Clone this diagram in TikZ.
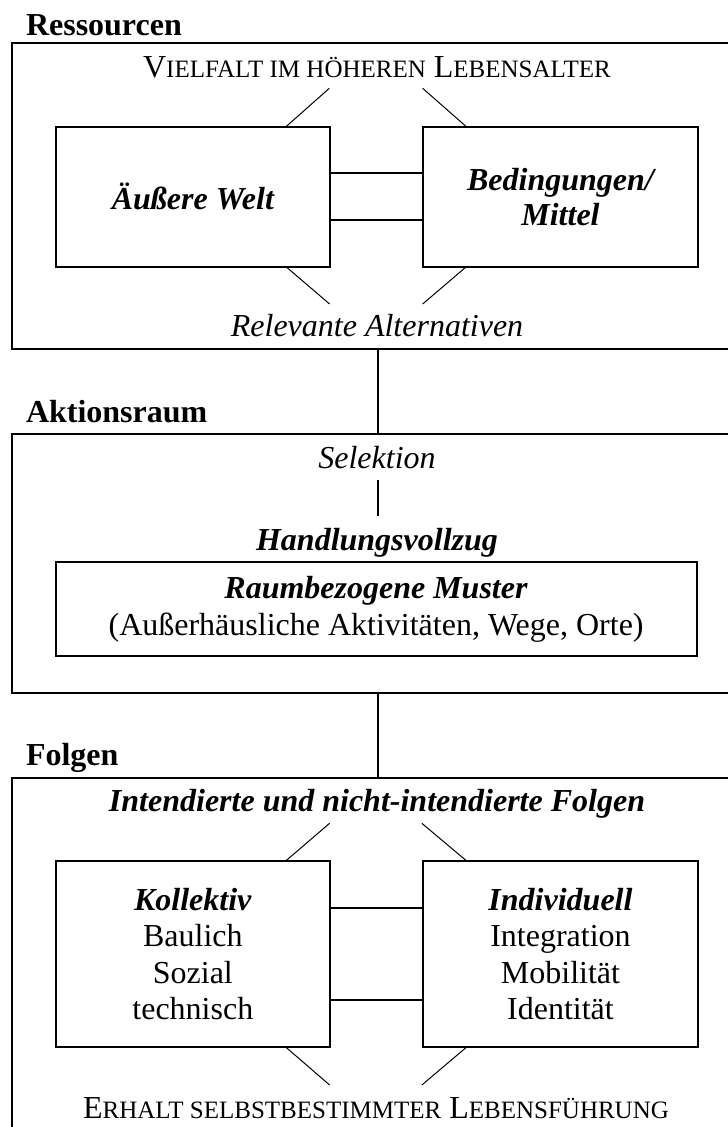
\documentclass[tikz,border=0pt]{standalone}
\usepackage{fontspec}
\setmainfont{Liberation Serif}
\usetikzlibrary{calc}
% small capitals built from reduced upper-case letters
\newcommand\kap[1]{{\fontsize{25}{30}\selectfont #1}}
\begin{document}
\begin{tikzpicture}[x=1pt,y=-1pt,
  every node/.style={font=\fontsize{32}{36.5}\selectfont, inner sep=0pt, outer sep=0pt},
  head/.style={font=\fontsize{32}{36.5}\selectfont\bfseries, anchor=base west},
  label/.style={anchor=base},
  outerbox/.style={draw, line width=2pt, minimum width=733pt},
  innerbox/.style={draw, line width=2pt, align=center},
  sidebox/.style={innerbox, minimum width=274.3pt},
  link/.style={line width=2pt},
  diag/.style={line width=1pt},
  vline/.style={line width=1.3pt}]
\useasboundingbox (0,0) rectangle (728,1127);
\clip (0,0) rectangle (728,1127);

% ---------- Ressourcen ----------
\node[head] (hres) at (26,35) {Ressourcen};
\node[outerbox, minimum height=306.6pt] (res) at (378,196) {};
\node[label] (vielfalt) at (377,77) {V\kap{IELFALT IM HÖHEREN} L\kap{EBENSALTER}};
\node[sidebox, minimum height=140pt, font=\fontsize{32}{36.5}\selectfont\bfseries\itshape] (welt) at (192.85,196.7) {Äußere Welt};
\node[sidebox, minimum height=140pt, font=\fontsize{32}{35}\selectfont\bfseries\itshape] (mittel) at (560.5,196.7) {Bedingungen/\\Mittel};
\node[label, font=\fontsize{32}{36.5}\selectfont\itshape] (alt) at (377,336) {Relevante Alternativen};

\draw[link] ($(welt.north east)+(0,46)$) -- ($(mittel.north west)+(0,46)$);
\draw[link] ($(welt.north east)+(0,93.3)$) -- ($(mittel.north west)+(0,93.3)$);
\draw[diag] ($(welt.north east)+(-44,0)$) -- ($(welt.north east)+(-0.7,-38.4)$);
\draw[diag] ($(mittel.north west)+(43,0)$) -- ($(mittel.north west)+(-0.7,-38.4)$);
\draw[diag] ($(welt.south east)+(-44,0)$) -- ($(welt.south east)+(-0.4,37.3)$);
\draw[diag] ($(mittel.south west)+(43,0)$) -- ($(mittel.south west)+(-0.7,37.3)$);

% ---------- Aktionsraum ----------
\node[head] (hakt) at (26,422) {Aktionsraum};
\node[outerbox, minimum height=259.3pt] (akt) at (378,563.65) {};
\node[label, font=\fontsize{32}{36.5}\selectfont\itshape] (sel) at (377,468) {Selektion};
\node[label, font=\fontsize{32}{36.5}\selectfont\bfseries\itshape] (hand) at (377,550.5) {Handlungsvollzug};
\node[innerbox, minimum width=640.8pt, minimum height=93.7pt] (muster) at (376.1,609.2)
  {\textbf{\textit{Raumbezogene Muster}}\\(Außerhäusliche Aktivitäten, Wege, Orte)};
\draw[vline] ($(sel.south)+(1,12)$) -- ($(sel.south)+(1,48)$);

\draw[vline] (res.south) -- (akt.north);

% ---------- Folgen ----------
\node[head] (hfol) at (26,765) {Folgen};
\node[outerbox, minimum height=382pt] (fol) at (378,969) {};
\node[label, font=\fontsize{32}{36.5}\selectfont\bfseries\itshape] (intend) at (377,811) {Intendierte und nicht-intendierte Folgen};
\node[sidebox, minimum height=186.6pt] (koll) at (192.85,954)
  {\textbf{\textit{Kollektiv}}\\Baulich\\Sozial\\technisch};
\node[sidebox, minimum height=186.6pt] (indiv) at (560.5,954)
  {\textbf{\textit{Individuell}}\\Integration\\Mobilität\\Identität};
\node[label] (erhalt) at (376,1118.3) {E\kap{RHALT SELBSTBESTIMMTER} L\kap{EBENSFÜHRUNG}};

\draw[link] ($(koll.north east)+(0,47)$) -- ($(indiv.north west)+(0,47)$);
\draw[link] ($(koll.north east)+(0,139.3)$) -- ($(indiv.north west)+(0,139.3)$);
\draw[diag] ($(koll.north east)+(-44,0)$) -- ($(koll.north east)+(-0.4,-37.4)$);
\draw[diag] ($(indiv.north west)+(43,0)$) -- ($(indiv.north west)+(-1.5,-37.4)$);
\draw[diag] ($(koll.south east)+(-44,0)$) -- ($(koll.south east)+(-0.4,37.7)$);
\draw[diag] ($(indiv.south west)+(43,0)$) -- ($(indiv.south west)+(-1.5,37.7)$);

\draw[vline] (akt.south) -- (fol.north);
\end{tikzpicture}
\end{document}
